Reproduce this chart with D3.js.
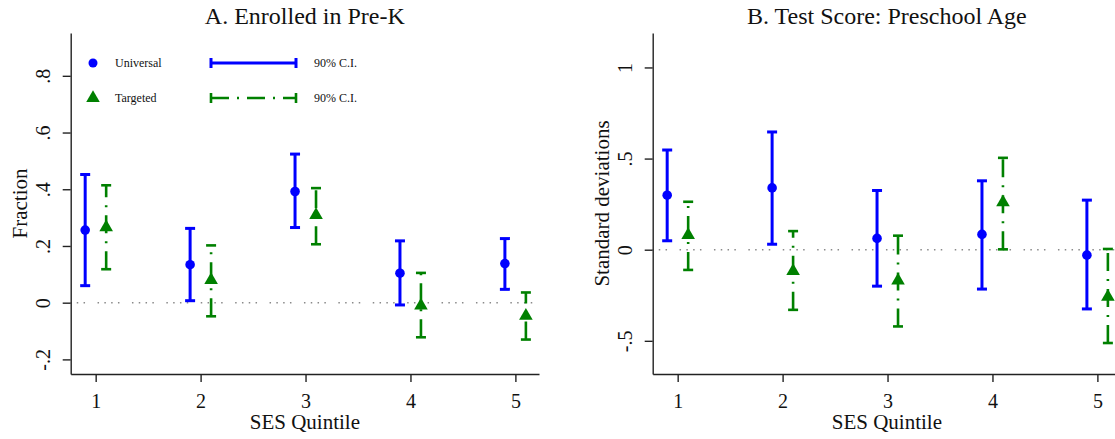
<!doctype html>
<html>
  <head>
    <meta charset="utf-8"/>
    <title>Pre-K enrollment and test scores by SES quintile</title>
    <style>
      body, html {
        margin: 0;
        padding: 0;
        background: white;
      }
      svg {
        display: block;
        font-family: "Liberation Serif", "Times New Roman", serif;
      }
      .axis path, .axis line {
        stroke: #222;
        stroke-width: 1.4px;
      }
      .axis text {
        fill: #111;
        font-size: 20px;
        font-family: "Liberation Serif", "Times New Roman", serif;
      }
    </style>
    <script src="https://cdn.jsdelivr.net/npm/d3@7"></script>
  </head>
  <body>
    <svg width="1115" height="439"></svg>

    <script>
      // data
      var quintiles = [1, 2, 3, 4, 5];

      // A. Enrolled in Pre-K
      var uniEnroll   = [0.256, 0.134, 0.392, 0.104, 0.138];
      var uniEnrollLo = [0.060, 0.007, 0.265, -0.008, 0.047];
      var uniEnrollHi = [0.452, 0.262, 0.524, 0.218, 0.226];
      var tarEnroll   = [0.266, 0.080, 0.309, -0.010, -0.046];
      var tarEnrollLo = [0.118, -0.048, 0.206, -0.122, -0.130];
      var tarEnrollHi = [0.414, 0.202, 0.404, 0.105, 0.036];

      // B. Test Score: Preschool Age
      var uniScore   = [0.299, 0.339, 0.062, 0.084, -0.030];
      var uniScoreLo = [0.049, 0.030, -0.200, -0.216, -0.325];
      var uniScoreHi = [0.547, 0.646, 0.325, 0.378, 0.272];
      var tarScore   = [0.080, -0.117, -0.170, 0.260, -0.258];
      var tarScoreLo = [-0.111, -0.330, -0.421, 0.002, -0.512];
      var tarScoreHi = [0.263, 0.102, 0.077, 0.504, 0.004];

      var enrollTicks = [-0.2, 0, 0.2, 0.4, 0.6, 0.8];
      var scoreTicks = [-0.5, 0, 0.5, 1];

      var blue = "#0000ff",
          green = "#008000";

      var svg = d3.select("svg");
      var plotTop = 33, plotBottom = 374;

      // stata style numbers: .8, -.2, 0, 1
      function stataFmt(v) {
        if (v === 0) return "0";
        var s = String(Math.round(v * 100) / 100);
        return s.replace("0.", ".");
      }

      function series(mid, lo, hi) {
        return quintiles.map(function(q, i) {
          return {q: q, v: mid[i], lo: lo[i], hi: hi[i]};
        });
      }

      function panel(o) {
        var g = svg.append("g");
        var x = d3.scaleLinear().domain([0.762, 5.225]).range([o.left, o.left + 468.3]);
        var y = d3.scaleLinear().domain(o.yDomain).range([plotBottom, plotTop]);

        g.append("text")
          .attr("x", (x.range()[0] + x.range()[1]) / 2)
          .attr("y", 24)
          .attr("text-anchor", "middle")
          .style("font-size", "24px")
          .style("fill", "#111")
          .text(o.title);

        // zero reference line
        g.append("line")
          .attr("x1", x.range()[0]).attr("x2", x.range()[1])
          .attr("y1", y(0)).attr("y2", y(0))
          .attr("stroke", "#8a8a8a")
          .attr("stroke-width", 1.6)
          .attr("stroke-dasharray", "1.5,5.3,1.5,5.3,1.5,5.3,1.5,12.5")
          .attr("stroke-dashoffset", 7.55);

        var yAxis = g.append("g")
          .attr("class", "axis")
          .attr("transform", "translate(" + o.left + ",0)")
          .call(d3.axisLeft(y).tickValues(o.ticks).tickSize(8).tickSizeOuter(0).tickFormat(stataFmt));
        yAxis.selectAll("text")
          .attr("x", null).attr("dy", null)
          .attr("text-anchor", "middle")
          .attr("transform", "translate(-21,0) rotate(-90)");

        var xAxis = g.append("g")
          .attr("class", "axis")
          .attr("transform", "translate(0," + plotBottom + ")")
          .call(d3.axisBottom(x).tickValues(quintiles).tickSize(8).tickSizeOuter(0).tickFormat(d3.format("d")));
        xAxis.selectAll("text").attr("y", 33.5).attr("dy", null);

        g.append("text")
          .attr("x", (x.range()[0] + x.range()[1]) / 2)
          .attr("y", 429)
          .attr("text-anchor", "middle")
          .style("font-size", "21px")
          .style("fill", "#111")
          .text("SES Quintile");

        g.append("text")
          .attr("transform", "translate(" + (o.left - 44) + "," + ((plotTop + plotBottom) / 2) + ") rotate(-90)")
          .attr("text-anchor", "middle")
          .style("font-size", "21px")
          .style("fill", "#111")
          .text(o.yLabel);

        drawBars(g, x, y, o.universal, -0.1, blue, 3, null);
        drawBars(g, x, y, o.targeted, 0.1, green, 2.6, "18,8,2,8");

        g.selectAll(".uni")
          .data(o.universal).enter().append("circle")
          .attr("class", "uni")
          .attr("cx", function(d) { return x(d.q - 0.1); })
          .attr("cy", function(d) { return y(d.v); })
          .attr("r", 4.8)
          .attr("fill", blue);

        g.selectAll(".tar")
          .data(o.targeted).enter().append("path")
          .attr("class", "tar")
          .attr("d", d3.symbol(d3.symbolTriangle, 80))
          .attr("transform", function(d) { return "translate(" + x(d.q + 0.1) + "," + y(d.v) + ")"; })
          .attr("fill", green);

        return g;
      }

      function drawBars(g, x, y, data, off, color, w, dash) {
        var bars = g.selectAll(null).data(data).enter().append("g");
        // drawn from the lower end up, so the dash pattern starts at the bottom cap
        bars.append("line")
          .attr("x1", function(d) { return x(d.q + off); })
          .attr("x2", function(d) { return x(d.q + off); })
          .attr("y1", function(d) { return y(d.lo); })
          .attr("y2", function(d) { return y(d.hi); })
          .attr("stroke", color)
          .attr("stroke-width", w)
          .attr("stroke-dasharray", dash);
        ["lo", "hi"].forEach(function(k) {
          bars.append("line")
            .attr("x1", function(d) { return x(d.q + off) - 5; })
            .attr("x2", function(d) { return x(d.q + off) + 5; })
            .attr("y1", function(d) { return y(d[k]); })
            .attr("y2", function(d) { return y(d[k]); })
            .attr("stroke", color)
            .attr("stroke-width", w);
        });
      }

      var pA = panel({
        left: 70.7,
        title: "A. Enrolled in Pre-K",
        yLabel: "Fraction",
        yDomain: [-0.2515, 0.951],
        ticks: enrollTicks,
        universal: series(uniEnroll, uniEnrollLo, uniEnrollHi),
        targeted: series(tarEnroll, tarEnrollLo, tarEnrollHi)
      });

      panel({
        left: 652.7,
        title: "B. Test Score: Preschool Age",
        yLabel: "Standard deviations",
        yDomain: [-0.682, 1.189],
        ticks: scoreTicks,
        universal: series(uniScore, uniScoreLo, uniScoreHi),
        targeted: series(tarScore, tarScoreLo, tarScoreHi)
      });

      // legend, panel A only
      var leg = pA.append("g").style("font-size", "12px").style("fill", "#111");
      leg.append("circle").attr("cx", 93).attr("cy", 63).attr("r", 4.5).attr("fill", blue);
      leg.append("path")
        .attr("d", d3.symbol(d3.symbolTriangle, 80))
        .attr("transform", "translate(93,98)")
        .attr("fill", green);
      leg.append("text").attr("x", 115).attr("y", 67).text("Universal");
      leg.append("text").attr("x", 115).attr("y", 102).text("Targeted");

      [[63, blue, 3, null], [98, green, 2.6, "18,8,2,8"]].forEach(function(r) {
        leg.append("line")
          .attr("x1", 211).attr("x2", 296).attr("y1", r[0]).attr("y2", r[0])
          .attr("stroke", r[1]).attr("stroke-width", r[2]).attr("stroke-dasharray", r[3]);
        [211, 296].forEach(function(cx) {
          leg.append("line")
            .attr("x1", cx).attr("x2", cx).attr("y1", r[0] - 5).attr("y2", r[0] + 5)
            .attr("stroke", r[1]).attr("stroke-width", r[2]);
        });
        leg.append("text").attr("x", 314).attr("y", r[0] + 4).text("90% C.I.");
      });
    </script>
  </body>
</html>
